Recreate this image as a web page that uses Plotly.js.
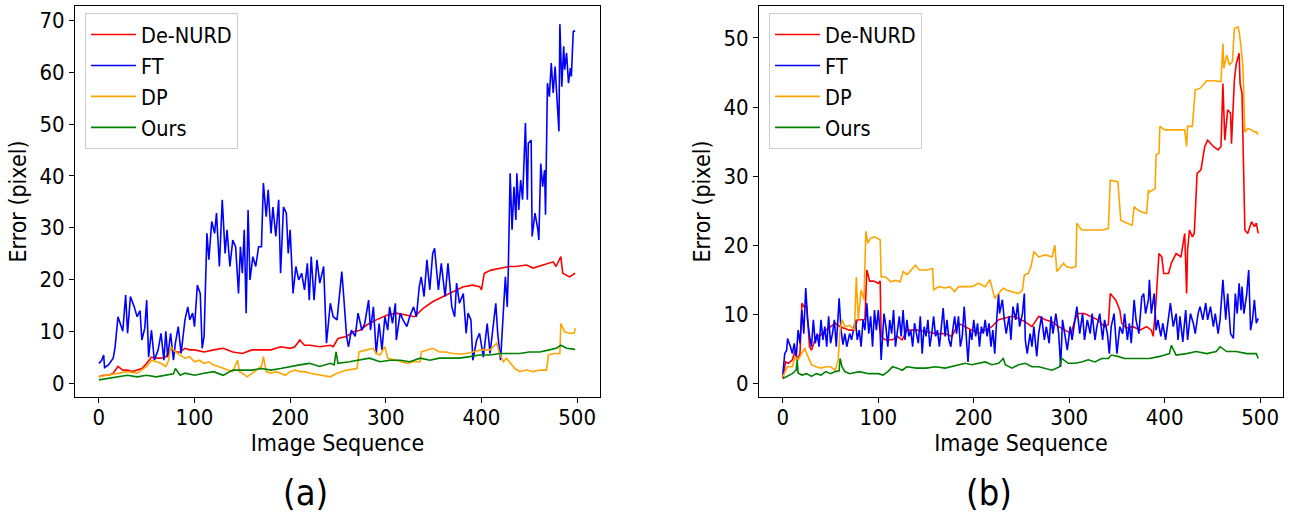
<!DOCTYPE html>
<html>
<head>
<meta charset="utf-8">
<script src="https://cdn.plot.ly/plotly-3.0.1.min.js"></script>
<style>
  html, body { margin: 0; padding: 0; background: #fff; }
  #chart { width: 1294px; height: 523px; }
</style>
</head>
<body>
<div id="chart"></div>
<script>
// series names, as in the legends
let names = ['De-NURD', 'FT', 'DP', 'Ours'];
let colors = ['#ff0000', '#0000ff', '#ffa500', '#008000'];
let xTicks = [0, 100, 200, 300, 400, 500];
let panelLabels = ['(a)', '(b)'];

// ---- panel (a): frame index / error ----
let denurdAx = [0,5,10,15,20,25,30,35,40,45,50,55,60,65,70,75,80,85,90,95,100,110,120,130,140,150,160,170,180,190,200,205,210,215,221,231,242,245,250,259,266,273,280,290,301,311,322,330,339,349,360,370,381,391,398,400,403,410,419,429,436,447,454,464,475,478,483,485,492,498];
let denurdAy = [1.2,1.5,1.5,1.9,3.2,2.5,2.5,2.2,2.5,2.8,3.8,5,4.8,4.8,5,6.7,6,6,6.7,6.4,6.4,6,6.4,6.7,6,5.7,6.4,6.4,6.4,7,6.7,7,8.3,7.3,7.3,7,7.3,7,8.6,9,9.9,10.2,11.2,12.2,13.1,13.5,13.1,12.8,14.4,15.7,16.7,17.6,18.6,18.9,18.6,18,21.2,21.8,22.2,22.5,22.5,22.8,22.2,22.8,23.4,22.5,24.4,21.2,20.5,21.2];

let ftAx = [0,3,5,6,10,15,17,20,25,28,30,33,37,40,43,45,48,50,52,55,58,62,65,68,70,72,75,78,80,83,86,90,93,95,98,100,103,106,108,110,113,115,118,121,123,126,129,132,134,137,140,143,146,148,150,152,154,156,158,161,164,167,170,172,175,177,180,182,185,188,190,193,196,198,200,203,206,209,212,215,218,220,222,225,228,231,235,238,242,245,249,254,256,259,261,264,268,271,275,278,282,284,287,290,293,296,299,302,304,307,310,311,315,318,322,325,329,332,335,337,340,343,346,349,351,355,358,362,365,369,372,374,377,381,384,386,389,391,395,398,402,406,409,412,415,417,420,423,425,427,428,430,432,434,436,437,439,441,443,446,448,449,452,453,456,459,460,462,464,466,467,469,471,473,475,477,478,481,482,484,486,487,489,491,493,494,496,498];
let ftAy = [3.8,4.4,5.4,3,3.5,4.8,7,12.8,10,17,9.6,16.7,14.7,12.8,14,8.3,10.6,16,5,10.2,4.4,6.4,9.6,4.4,10,5,9.6,4.4,7.7,10.9,5.7,12.2,14.7,12.2,13.5,10.9,18.9,17.3,6.7,9,28.9,23.8,31.2,28.9,32.8,22.5,35.4,25,29.6,22.5,27.6,26.3,17.3,26.3,21.2,29.6,13.5,33.4,19.9,24.4,22.5,26.3,26.3,38.6,32.1,37.3,28.9,34,28.3,35.4,21.2,34,32.8,25,29.6,17.3,22.5,19.9,21.2,18,23.1,16,24.4,16,23.8,19.3,22.5,7.7,15.4,12.8,12.2,21.5,16.7,9,7,10.2,9,13.5,10.2,11.5,16,10.2,14.7,5.7,11.5,6.4,12.8,10.2,14.7,11.5,15.4,8.3,13.5,12.2,10.9,12.8,14.7,12.8,18.6,20.5,16.7,23.8,18,25,26,18,23.1,16.7,23.1,14.7,12.8,19.3,15.4,17.3,9.6,13.5,12.2,4.4,8.3,9.6,5,11.5,5.7,10.2,15.4,9.6,4.4,14.1,20.5,14.7,21.2,40.5,29.6,37.9,31.5,40.5,33.4,39.2,35.4,50.2,35.4,46.3,46.9,28.3,32.8,29.6,27.6,42.4,37.9,41.1,32.5,57.9,55.3,61.8,56,61.1,58.5,48.6,69.3,57.2,65,60.5,63.7,57.9,60.8,59.2,67.9,68];

let dpAx = [0,10,20,30,40,45,50,55,60,65,70,73,75,80,85,90,95,100,105,110,115,120,125,130,135,140,145,147,150,155,160,165,170,172,175,180,185,190,195,200,205,210,215,221,231,242,249,259,270,272,280,287,290,294,299,302,311,322,329,336,337,343,349,356,363,370,377,384,391,400,409,416,419,423,426,431,435,440,447,454,461,468,470,476,482,483,487,492,497,498];
let dpAy = [1.2,1.5,1.9,2.2,1.9,2.5,3.2,4.4,4.1,3.8,3.2,4.4,7,6,5.4,4.8,5.1,4.1,4.4,3.8,4.1,3.5,3.2,2.8,2.5,2.2,4.4,2.2,1.9,1.2,1.9,2.5,3.2,5.1,2.2,1.9,2.2,1.9,1.5,2.2,2.5,2.2,2.2,1.9,1.5,1.2,1.9,2.5,2.8,6,6.4,6.7,5.7,5.4,7,4.8,4.4,3.8,4.1,4.1,6,6.4,6.7,6,6,5.7,5.6,5.7,6,6.4,6.4,7.7,5.7,4.1,4.8,3.8,2.8,2.2,2.5,2.2,2.5,2.5,5.4,5.7,5.7,11.5,9.9,9.6,9.6,10.6];

let oursAx = [0,10,20,30,40,50,60,70,78,80,85,90,100,110,120,130,140,150,160,170,180,190,200,210,220,225,231,242,246,248,250,262,273,283,294,304,315,325,336,346,356,367,377,388,398,409,419,429,440,450,461,471,478,483,489,498];
let oursAy = [0.6,0.9,1.2,1.5,1.2,1.5,1.2,1.5,1.8,2.8,1.5,1.9,1.5,1.9,2.2,1.5,2.5,2.5,2.5,2.8,2.5,2.8,3.2,3.5,3.8,3.5,3.2,3.8,3.5,6,3.8,4.1,4.4,4.8,4.1,4.4,4.4,4.1,4.8,4.4,4.8,4.8,4.8,5.1,5.4,5.4,5.7,5.7,5.7,6,6,6.4,6.7,7.3,6.7,6.5];

// ---- panel (b) ----
let denurdBx = [0,3,6,10,13,15,18,20,22,25,28,30,35,40,45,50,55,60,65,70,75,78,82,86,88,91,95,100,102,103,107,115,120,125,130,140,150,160,170,177,184,191,198,205,212,219,226,233,240,247,254,261,268,275,282,289,295,302,306,309,316,323,330,337,341,343,346,349,353,355,360,367,374,381,386,388,391,394,397,399,404,407,412,417,421,423,424,426,429,431,434,438,442,445,451,456,459,461,463,466,469,470,473,475,478,479,481,484,487,491,494,496,498];
let denurdBy = [0.7,3.1,2.9,3.4,4.8,3.4,4.3,11.6,11.1,11.1,5.3,4.8,6.8,7,7.7,8.2,8.7,8.2,8,7.7,7.7,9.2,9.2,9.2,16.4,14.8,14.8,14.5,14.8,6.8,6.3,6.3,6.8,6.3,7.7,7.7,7.5,7.2,7.2,6.8,8.7,8.2,7.7,7.2,7.7,8.2,9.2,9.4,9.7,9.4,8.9,8.2,9.7,9.2,8.9,8.2,7.7,7.2,9.2,10.1,10.1,9.7,9.2,8.2,8.5,13,12.5,12,10.6,8.7,8,8.2,7.7,8.2,7.7,6.8,12,18.8,18.3,15.9,15.9,17.4,18.8,18.3,21.7,13,19.3,22.2,21.2,21.7,30.4,30.9,34.3,35.2,34.3,33.8,34.3,43.4,35.2,39.6,39.1,34.7,43.9,46.3,47.8,43.4,42,22.2,21.7,23.4,22.7,23.2,21.7];

let ftBx = [0,2,4,5,8,10,12,14,16,18,20,22,24,26,28,30,32,34,36,38,40,42,44,46,48,50,52,54,56,59,61,63,65,67,70,72,74,76,78,80,82,84,86,88,90,92,94,96,98,100,102,103,106,108,110,112,114,116,118,120,122,124,126,128,130,132,134,136,138,140,142,144,146,148,150,152,154,156,158,160,162,164,166,168,170,172,174,176,178,180,182,184,186,188,190,192,194,196,198,200,202,204,206,208,210,212,214,216,218,220,222,224,226,227,230,232,234,237,239,241,244,246,248,251,253,254,256,259,261,263,266,268,271,274,276,279,281,283,286,289,291,293,295,298,301,303,306,308,311,314,316,319,322,324,327,329,332,335,337,340,342,344,347,350,353,356,358,361,363,365,368,370,373,376,378,380,383,384,386,389,391,393,396,398,401,404,406,409,412,414,416,419,422,424,427,430,432,435,437,440,443,445,448,451,453,456,458,461,464,466,469,472,474,476,478,480,481,483,486,488,490,492,494,496,498];
let ftBy = [1.2,4.3,4.8,6.5,5.3,4.3,5.8,3.6,7.7,5.8,10.6,7.2,13.8,9.2,6.8,5.3,9.2,5.8,7.2,5.3,9.2,6.3,8.2,5.3,9.7,5.8,7.2,9.2,5.3,12.3,7.7,5.6,7.2,5.3,7.2,6.3,7.7,9.2,6.3,7.7,5.3,9.2,7.7,11.6,7.2,9.7,5.3,10.6,7.7,10.6,7.2,3.4,10.1,8.2,5.3,9.2,7.2,10.6,5.3,7.2,9.7,6.8,10.6,6.3,9.2,6.8,7.7,5.3,8.7,7.2,5.8,9.7,4.3,8.2,6.8,9.2,5.3,7.2,9.7,6.8,7.7,5.3,8.2,10.9,6.8,9.2,6.3,5.3,7.7,9.7,7.2,9.7,5.3,6.8,11.1,7.2,3.1,7.7,6.3,9.2,6.8,8.7,5.3,8.2,7.2,9.2,6.8,8.7,5.3,7.7,4.3,9.2,13,10.1,12.1,9.2,7.2,9.7,6.3,11.1,9.2,11.6,8.2,10.1,13,6.3,4.3,7.2,5.3,8.2,3.9,7.2,9.7,6.3,8.2,5.8,9.7,7.2,10.1,7.2,2.4,9.2,7.2,4.8,8.2,6.3,9.2,11.1,7.2,10.1,6.3,9.2,7.2,10.1,6.3,8.2,10.1,6.3,9.2,7.2,4.3,8.2,10.1,4.3,8.2,7.2,10.1,6.3,8.7,5.8,12.1,9.2,7.2,12.5,13,10.1,12.1,15,10.1,13,7.7,9.2,6.8,8.7,6.3,9.2,11.6,8.2,10.1,6.3,9.7,6,10.6,6.3,10.1,8.7,7.2,10.1,11.1,9.2,11.6,9.2,11.1,8.2,10.1,7.2,9.2,15,9.2,13,7.2,6.5,13,10.1,14.5,10.6,14,10.1,13,16.4,7.7,9.2,12.1,8.7,9.4];

let dpBx = [0,5,10,13,16,20,23,25,28,30,35,40,45,50,55,58,60,62,65,70,75,77,79,82,85,87,89,92,96,100,102,103,108,113,118,123,126,130,135,139,143,150,157,158,163,170,175,180,184,191,198,205,212,217,222,226,231,234,240,247,251,253,257,260,263,268,275,282,285,287,290,294,297,302,307,308,313,323,334,341,343,351,354,360,366,368,372,376,381,383,384,390,391,394,395,400,405,412,421,423,424,429,432,437,442,444,451,459,461,462,465,468,471,473,477,478,480,482,484,487,491,494,496,498];
let dpBy = [1,2.4,2.4,3.9,3.4,4.3,5.1,4.3,3.4,2.7,2.4,2.2,2.4,2.4,1.9,3.4,7.7,9.2,8.2,8.4,7.7,15.4,9.2,13.5,12.1,22,20.3,21,21.2,21,20.8,15.4,15.4,14.7,14.9,14.7,16.2,15.7,16.4,17.1,16.4,16.4,16.6,13.5,14,13.8,14,13.3,14,14,14,14.5,14,15,12.3,13,13.8,13.5,13.3,13,13.5,15.7,15.9,16.9,19.1,18.3,18.6,18.3,20,16.2,16.7,17.4,16.9,16.7,16.9,23.2,22.2,22.2,22.2,22.4,29.4,29.2,23.6,23.2,22.9,25.6,25.1,24.8,24.6,28,27.7,28.2,33.1,33.3,37.2,36.7,36.7,36.7,36.7,34.3,37.2,37.2,42.5,42.7,43.4,43.8,43.8,43.7,49.2,45.6,47.5,46.1,46.6,51.4,51.6,50.9,48.7,45.8,36.4,36.9,36.7,36.4,36.4,36];

let oursBx = [0,5,10,14,15,16,20,25,30,35,40,45,50,55,59,60,62,65,70,80,90,100,105,110,115,120,125,130,140,150,160,170,177,184,191,198,205,212,219,226,231,233,240,247,254,261,268,275,282,290,292,299,306,313,320,327,334,341,344,351,358,363,374,384,395,405,407,412,423,433,444,454,458,465,475,486,496,498];
let oursBy = [0.7,1,1.4,1.9,3.4,1.5,1.2,1.4,1,1.4,1.2,1.7,1.4,1.7,1.8,3.6,2.4,1.7,1.4,1.7,1.4,1.4,1.2,1.7,2.4,2.2,1.9,2.4,2.2,2.2,2.4,2.2,2.4,2.7,2.9,2.7,2.9,3.1,2.7,2.9,3.6,2.7,2.2,2.7,2.9,2.4,2.4,2.2,1.9,2.4,3.6,2.9,2.9,3.1,3.4,3.1,3.6,3.6,4.1,3.9,3.6,3.6,3.6,3.6,3.9,4.3,5.5,4.1,4.3,4.6,4.3,4.6,5.3,4.6,4.6,4.3,4.3,3.6];

let panelA = [[denurdAx, denurdAy], [ftAx, ftAy], [dpAx, dpAy], [oursAx, oursAy]];
let panelB = [[denurdBx, denurdBy], [ftBx, ftBy], [dpBx, dpBy], [oursBx, oursBy]];

// the source figure is squeezed sideways, a condensed face fits it better
let font = 'DejaVu Sans Condensed, Liberation Sans Narrow, DejaVu Sans, sans-serif';
let traces = [];
for (var k = 0; k < 4; k++) {
  traces.push({
    x: panelA[k][0], y: panelA[k][1], name: names[k],
    type: 'scatter', mode: 'lines', xaxis: 'x', yaxis: 'y',
    line: {color: colors[k], width: 1.6},
    legend: 'legend', legendgroup: 'a' + k
  });
}
for (var k = 0; k < 4; k++) {
  traces.push({
    x: panelB[k][0], y: panelB[k][1], name: names[k],
    type: 'scatter', mode: 'lines', xaxis: 'x2', yaxis: 'y2',
    line: {color: colors[k], width: 1.6},
    legend: 'legend2', legendgroup: 'b' + k
  });
}

function xAxis(domain, anchor) {
  return {
    domain: domain, anchor: anchor, range: [-24.95, 523.95],
    tickvals: xTicks, ticks: 'outside', ticklen: 5, tickwidth: 1, tickcolor: '#000',
    ticklabelstandoff: -4,
    showline: true, mirror: true, linecolor: '#000', linewidth: 1,
    showgrid: false, zeroline: false,
    tickfont: {family: font, size: 22, color: '#000'},
    title: {text: 'Image Sequence', font: {family: font, size: 23, color: '#000'}, standoff: 1}
  };
}
function yAxis(range, anchor) {
  return {
    domain: [0.2409, 0.9885], anchor: anchor, range: range, dtick: 10,
    ticks: 'outside', ticklen: 5, tickwidth: 1, tickcolor: '#000',
    showline: true, mirror: true, linecolor: '#000', linewidth: 1,
    showgrid: false, zeroline: false,
    tickfont: {family: font, size: 22, color: '#000'},
    title: {text: 'Error (pixel)', font: {family: font, size: 23, color: '#000'}, standoff: 6}
  };
}
function legendBox(x) {
  return {
    x: x, y: 0.9751, xanchor: 'left', yanchor: 'top',
    bgcolor: 'rgba(255,255,255,0.8)', bordercolor: '#cccccc', borderwidth: 1,
    font: {family: font, size: 21.5, color: '#000'}, tracegroupgap: 0, itemwidth: 45
  };
}

let layout = {
  width: 1294, height: 523,
  margin: {l: 0, r: 0, t: 0, b: 0},
  paper_bgcolor: '#fff', plot_bgcolor: '#fff',
  showlegend: true,
  xaxis: xAxis([0.05796, 0.46368], 'y'),
  yaxis: yAxis([-2.7, 72.8], 'x'),
  xaxis2: xAxis([0.58655, 0.9915], 'y2'),
  yaxis2: yAxis([-1.98, 54.63], 'x2'),
  legend: legendBox(0.0657),
  legend2: legendBox(0.5943),
  annotations: [
    {text: panelLabels[0], xref: 'paper', yref: 'paper', x: 0.2362, y: 0.0574,
     xanchor: 'center', yanchor: 'middle',
     showarrow: false, font: {family: font, size: 36, color: '#000'}},
    {text: panelLabels[1], xref: 'paper', yref: 'paper', x: 0.7645, y: 0.0574,
     xanchor: 'center', yanchor: 'middle',
     showarrow: false, font: {family: font, size: 36, color: '#000'}}
  ]
};

Plotly.newPlot('chart', traces, layout, {staticPlot: true});
</script>
</body>
</html>
